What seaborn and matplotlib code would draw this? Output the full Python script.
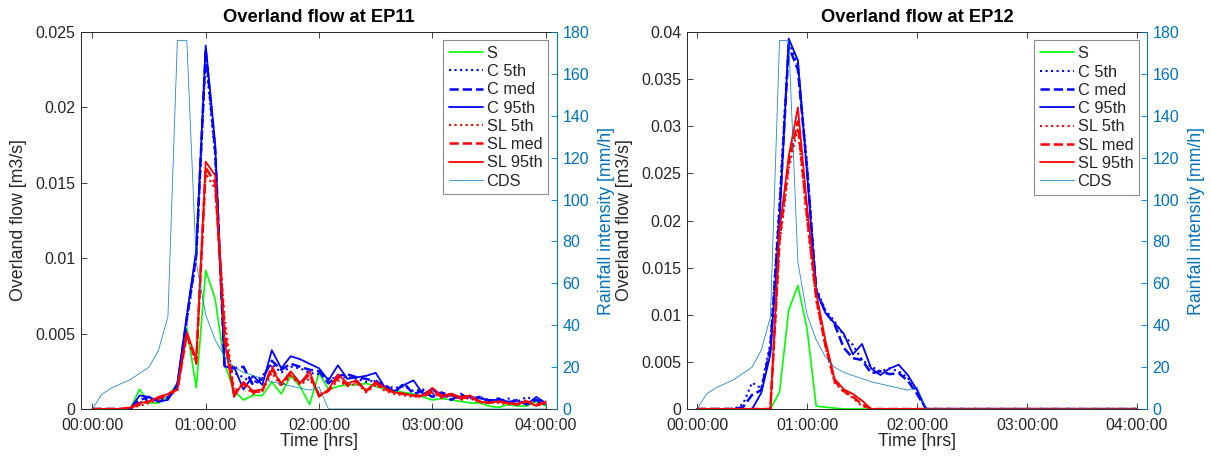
import numpy as np
import pandas as pd
import seaborn as sns
import matplotlib
matplotlib.use("Agg")
import matplotlib.pyplot as plt
from matplotlib.ticker import FixedLocator

# ---------------- data ----------------
time_min = list(range(0, 245, 5))  # 0 .. 240 min, 5-min steps (49 points)

cds = [0, 7, 10, 12, 14, 17, 20, 28, 44, 176, 176, 70, 45, 33, 25, 20, 17.5, 16, 14.5, 13,
       12, 11, 10, 9, 10.5, 0, 0, 0, 0, 0, 0, 0, 0, 0, 0, 0, 0, 0, 0, 0,
       0, 0, 0, 0, 0, 0, 0, 0, 0]

# EP11
ep11_s = [0, 0, 0, 0, 0, 0.0013, 0.0004, 0.0004, 0.0008, 0.0017, 0.0054, 0.0014, 0.0092, 0.0073, 0.0030,
          0.0012, 0.0006, 0.0009, 0.0009, 0.0018, 0.0010, 0.0022, 0.0015, 0.0003, 0.0024, 0.0013, 0.0015,
          0.0016, 0.0016, 0.0017, 0.0015, 0.0013, 0.0012, 0.0011, 0.0010, 0.0008, 0.0006, 0.0007, 0.0006,
          0.0005, 0.0004, 0.0004, 0.0002, 0.0001, 0.0003, 0.0002, 0.0002, 0.0005, 0.0002]
ep11_c5 = [0, 0, 0, 0, 0, 0.0004, 0.0007, 0.0006, 0.0008, 0.0014, 0.0058, 0.0100, 0.0233, 0.0168, 0.0030,
           0.0024, 0.0021, 0.0017, 0.0022, 0.0030, 0.0024, 0.0028, 0.0027, 0.0024, 0.0023, 0.0020, 0.0021,
           0.0021, 0.0020, 0.0018, 0.0019, 0.0015, 0.0014, 0.0015, 0.0012, 0.0013, 0.0010, 0.0011, 0.0009,
           0.0008, 0.0007, 0.0008, 0.0006, 0.0005, 0.0007, 0.0005, 0.0008, 0.0005, 0.0003]
ep11_cmed = [0, 0, 0, 0, 0, 0.0006, 0.0008, 0.0005, 0.0007, 0.0015, 0.0060, 0.0102, 0.0238, 0.0172, 0.0028,
             0.0027, 0.0028, 0.0016, 0.0020, 0.0032, 0.0026, 0.0030, 0.0028, 0.0026, 0.0025, 0.0017, 0.0022,
             0.0023, 0.0021, 0.0020, 0.0018, 0.0016, 0.0011, 0.0017, 0.0010, 0.0012, 0.0008, 0.0011, 0.0006,
             0.0010, 0.0006, 0.0008, 0.0005, 0.0007, 0.0004, 0.0006, 0.0003, 0.0006, 0.0004]
ep11_c95 = [0, 0, 0, 0, 0, 0.0009, 0.0008, 0.0005, 0.0006, 0.0017, 0.0062, 0.0105, 0.0241, 0.0176, 0.0028,
            0.0028, 0.0013, 0.0022, 0.0016, 0.0039, 0.0027, 0.0035, 0.0033, 0.0030, 0.0027, 0.0019, 0.0029,
            0.0020, 0.0021, 0.0022, 0.0024, 0.0014, 0.0012, 0.0016, 0.0019, 0.0010, 0.0013, 0.0008, 0.0009,
            0.0007, 0.0008, 0.0007, 0.0006, 0.0006, 0.0005, 0.0005, 0.0003, 0.0008, 0.0004]
ep11_sl5 = [0, 0, 0, 0, 0.0001, 0.0002, 0.0004, 0.0006, 0.0009, 0.0012, 0.0048, 0.0030, 0.0156, 0.0146, 0.0060,
            0.0012, 0.0016, 0.0010, 0.0012, 0.0024, 0.0015, 0.0022, 0.0016, 0.0020, 0.0010, 0.0012, 0.0019,
            0.0015, 0.0017, 0.0011, 0.0016, 0.0012, 0.0010, 0.0009, 0.0008, 0.0009, 0.0011, 0.0007, 0.0009,
            0.0006, 0.0008, 0.0004, 0.0005, 0.0004, 0.0003, 0.0004, 0.0006, 0.0002, 0.0004]
ep11_slmed = [0, 0, 0, 0, 0.0001, 0.0003, 0.0005, 0.0007, 0.0010, 0.0013, 0.0050, 0.0031, 0.0160, 0.0150, 0.0052,
              0.0010, 0.0017, 0.0011, 0.0012, 0.0028, 0.0016, 0.0024, 0.0017, 0.0023, 0.0009, 0.0012, 0.0021,
              0.0016, 0.0018, 0.0012, 0.0017, 0.0013, 0.0011, 0.0010, 0.0009, 0.0008, 0.0012, 0.0008, 0.0010,
              0.0007, 0.0008, 0.0005, 0.0004, 0.0005, 0.0004, 0.0003, 0.0005, 0.0003, 0.0004]
ep11_sl95 = [0, 0, 0, 0, 0.0001, 0.0004, 0.0005, 0.0008, 0.0010, 0.0013, 0.0051, 0.0033, 0.0164, 0.0155, 0.0045,
             0.0008, 0.0018, 0.0012, 0.0013, 0.0026, 0.0017, 0.0025, 0.0017, 0.0025, 0.0008, 0.0013, 0.0023,
             0.0017, 0.0019, 0.0012, 0.0018, 0.0014, 0.0011, 0.0010, 0.0009, 0.0009, 0.0014, 0.0009, 0.0010,
             0.0008, 0.0009, 0.0005, 0.0004, 0.0005, 0.0004, 0.0003, 0.0005, 0.0002, 0.0005]

# EP12
ep12_s = [0] * 9 + [0.0018, 0.0105, 0.0131, 0.0085, 0.0003, 0.0002, 0.0001] + [0] * 33
ep12_c5 = [0] * 5 + [0.0005, 0.0028, 0.0022, 0.0070, 0.0220, 0.0390, 0.0365, 0.0260, 0.0128, 0.0105, 0.0093,
                     0.0078, 0.0068, 0.0052, 0.0045, 0.0040, 0.0043, 0.0040, 0.0033, 0.0017] + [0] * 24
ep12_cmed = [0] * 5 + [0.0002, 0.0015, 0.0020, 0.0065, 0.0210, 0.0385, 0.0360, 0.0255, 0.0126, 0.0103, 0.0090,
                       0.0065, 0.0054, 0.0052, 0.0038, 0.0040, 0.0037, 0.0038, 0.0030, 0.0016] + [0] * 24
ep12_c95 = [0] * 5 + [0, 0, 0.0017, 0.0058, 0.0200, 0.0393, 0.0370, 0.0250, 0.0125, 0.0102, 0.0091,
                      0.0080, 0.0058, 0.0069, 0.0043, 0.0036, 0.0043, 0.0047, 0.0036, 0.0020] + [0] * 24
ep12_sl5 = [0] * 9 + [0.0175, 0.0255, 0.0298, 0.0200, 0.0115, 0.0066, 0.0028, 0.0018, 0.0012, 0.0003] + [0] * 30
ep12_slmed = [0] * 9 + [0.0180, 0.0262, 0.0305, 0.0205, 0.0118, 0.0068, 0.0030, 0.0019, 0.0013, 0.0005] + [0] * 30
ep12_sl95 = [0] * 9 + [0.0190, 0.0268, 0.0320, 0.0215, 0.0123, 0.0073, 0.0032, 0.0021, 0.0016, 0.0009] + [0] * 30

x_ticks = [0, 60, 120, 180, 240]
x_tick_labels = ["00:00:00", "01:00:00", "02:00:00", "03:00:00", "04:00:00"]
titles = ["Overland flow at EP11", "Overland flow at EP12"]

# ---------------- style ----------------
sns.set_style("white")
plt.rcParams["font.family"] = ["Liberation Sans", "DejaVu Sans"]
plt.rcParams["axes.unicode_minus"] = False

DARK = "#262626"
RAIN = "#0072BD"
GREEN = "#00FF00"
BLUE = "#0000FF"
RED = "#FF0000"

fig = plt.figure(figsize=(12.11, 4.59), dpi=100)
ax_l = fig.add_axes([0.0669, 0.1089, 0.3931, 0.8214])
ax_r = fig.add_axes([0.5673, 0.1089, 0.3799, 0.8214])

panels = [
    (ax_l, [ep11_s, ep11_c5, ep11_cmed, ep11_c95, ep11_sl5, ep11_slmed, ep11_sl95],
     0.025, [0, 0.005, 0.01, 0.015, 0.02, 0.025], (-6, 246), (1 - 9 / 476, 1 - 8 / 377)),
    (ax_r, [ep12_s, ep12_c5, ep12_cmed, ep12_c95, ep12_sl5, ep12_slmed, ep12_sl95],
     0.04, [0, 0.005, 0.01, 0.015, 0.02, 0.025, 0.03, 0.035, 0.04], (-5.5, 245.5), (1 - 8 / 460, 1 - 8.5 / 377)),
]

names = ["S", "C 5th", "C med", "C 95th", "SL 5th", "SL med", "SL 95th"]
colors = [GREEN, BLUE, BLUE, BLUE, RED, RED, RED]
styles = ["-", ":", "--", "-", ":", "--", "-"]
widths = [1.2, 1.5, 1.8, 1.3, 1.5, 1.8, 1.3]

for i, (ax, series, ymax, yticks, xlim, leg_anchor) in enumerate(panels):
    ax2 = ax.twinx()
    ax2.set_position(ax.get_position())
    handles = []
    for name, vals, c, ls, lw in zip(names, series, colors, styles, widths):
        sns.lineplot(x=time_min, y=vals, ax=ax, color=c, linestyle=ls, linewidth=lw,
                     label=name, legend=False)
        handles.append(ax.lines[-1])
    sns.lineplot(x=time_min, y=cds, ax=ax2, color=RAIN, linewidth=0.6, alpha=0.85,
                 label="CDS", legend=False)
    handles.append(ax2.lines[-1])

    ax.set_xlim(*xlim)
    ax.set_ylim(0, ymax)
    ax2.set_ylim(0, 180)
    ax.xaxis.set_major_locator(FixedLocator(x_ticks))
    ax.set_xticklabels(x_tick_labels)
    ax.set_yticks(yticks)
    ax.set_yticklabels([("%g" % v) for v in yticks])
    ax2.set_yticks(range(0, 181, 20))

    ax.tick_params(axis="x", direction="in", top=True, bottom=True, length=4, width=0.6,
                   colors=DARK, labelsize=11.5, pad=6.5)
    ax.tick_params(axis="y", direction="in", left=True, right=False, length=4, width=0.6,
                   colors=DARK, labelsize=11.5, pad=4)
    ax2.tick_params(axis="y", direction="in", right=True, length=4, width=0.6,
                    colors=RAIN, labelsize=11.5, pad=4)

    for sp in ["left", "top", "bottom"]:
        ax.spines[sp].set_color(DARK)
        ax.spines[sp].set_linewidth(0.7)
        ax.spines[sp].set_visible(True)
    ax.spines["right"].set_visible(False)
    ax2.spines["right"].set_color(RAIN)
    ax2.spines["right"].set_linewidth(0.8)
    for sp in ["left", "top", "bottom"]:
        ax2.spines[sp].set_visible(False)

    ax.set_xlabel("Time [hrs]", fontsize=12.8, color=DARK, labelpad=0)
    ax.set_ylabel("Overland flow [m3/s]", fontsize=12.8, color=DARK, labelpad=6)
    ax2.set_ylabel("Rainfall intensity [mm/h]", fontsize=12.8, color=RAIN, labelpad=6)
    ax.set_title(titles[i], fontsize=13.2, fontweight="bold", color="black", pad=7)

    leg = ax2.legend(handles, names + ["CDS"], loc="upper right", bbox_to_anchor=leg_anchor,
                     borderaxespad=0, fontsize=11.8, frameon=True, fancybox=False,
                     handlelength=2.1, handletextpad=0.2, labelspacing=0.2,
                     borderpad=0.35, framealpha=1)
    leg.get_frame().set_edgecolor("#8c8c8c")
    leg.get_frame().set_linewidth(0.8)

fig.savefig("out.png", dpi=100, facecolor="white")
